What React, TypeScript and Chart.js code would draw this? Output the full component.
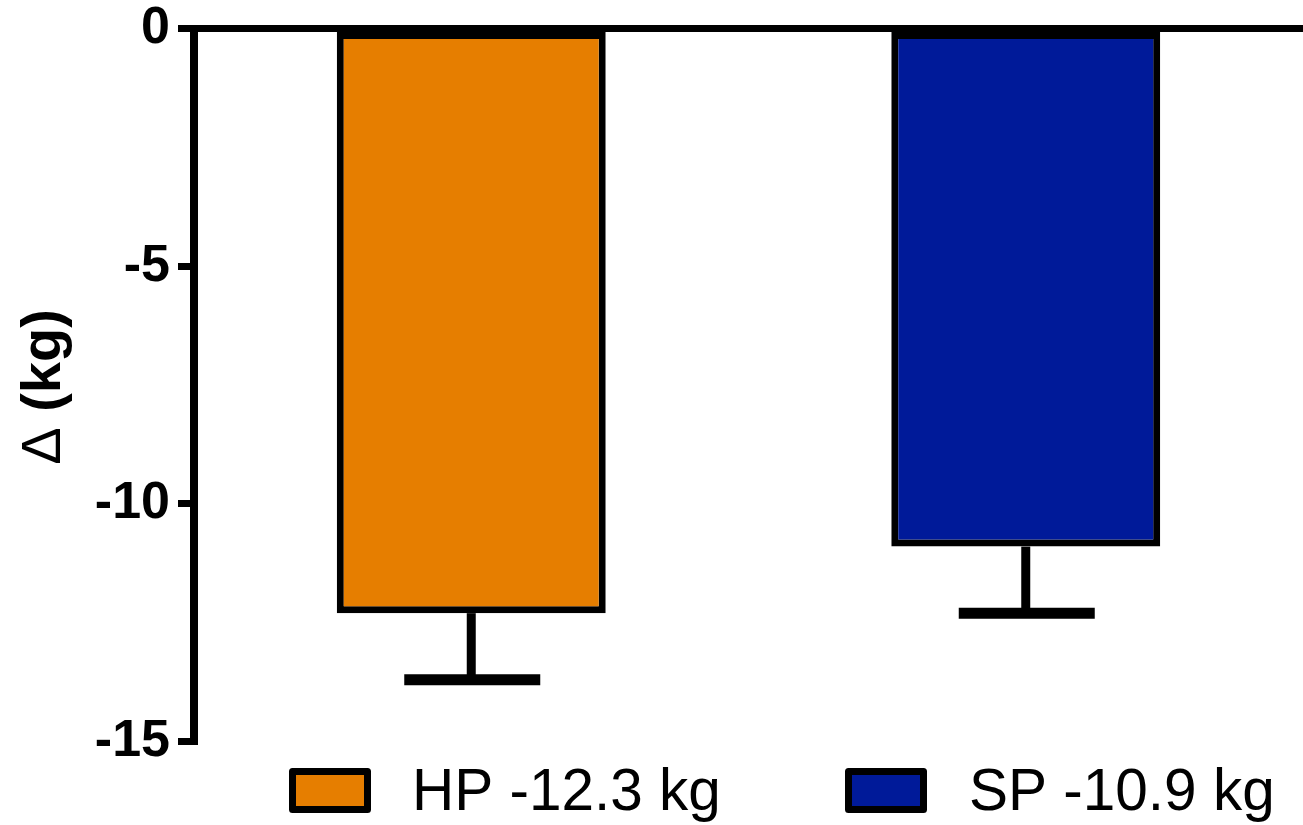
import React, { useEffect, useRef } from "react";
import { Chart, registerables } from "chart.js";

Chart.register(...registerables);

const categories = ["HP", "SP"];
const means = [-12.3, -10.9];
const errors = [1.4, 1.4];
const legendLabels = ["HP -12.3 kg", "SP -10.9 kg"];
const barColors = ["#E67E00", "#001A99"];
const yTicks = [0, -5, -10, -15];
const yTitleSymbol = "Δ";
const yTitleUnit = " (kg)";

const FONT = "'Liberation Sans', Arial, Helvetica, sans-serif";

const errorBarPlugin = {
  id: "errorBars",
  afterDatasetsDraw(chart: any) {
    const ctx = chart.ctx;
    const meta = chart.getDatasetMeta(0);
    const y = chart.scales.y;
    ctx.save();
    ctx.strokeStyle = "#000";
    meta.data.forEach((el: any, i: number) => {
      const x = el.x;
      const yBar = y.getPixelForValue(means[i]);
      const yEnd = y.getPixelForValue(means[i] - errors[i]);
      ctx.lineCap = "butt";
      ctx.lineWidth = 9;
      ctx.beginPath();
      ctx.moveTo(x, yBar);
      ctx.lineTo(x, yEnd);
      ctx.stroke();
      ctx.lineWidth = 11;
      ctx.beginPath();
      ctx.moveTo(x - 67, yEnd);
      ctx.lineTo(x + 69, yEnd);
      ctx.stroke();
    });
    ctx.restore();
  },
};

const customLegendPlugin = {
  id: "customLegend",
  afterDraw(chart: any) {
    const ctx = chart.ctx;
    const boxXs = [289, 845];
    const textXs = [412, 969];
    const boxY = 768;
    const boxW = 82;
    const boxH = 45;
    const bw = 7;
    ctx.save();
    legendLabels.forEach((label, i) => {
      ctx.fillStyle = barColors[i];
      ctx.fillRect(boxXs[i] + bw / 2, boxY + bw / 2, boxW - bw, boxH - bw);
      ctx.lineWidth = bw;
      ctx.lineJoin = "round";
      ctx.strokeStyle = "#000";
      ctx.strokeRect(boxXs[i] + bw / 2, boxY + bw / 2, boxW - bw, boxH - bw);
      ctx.fillStyle = "#000";
      ctx.font = `58.5px ${FONT}`;
      ctx.textAlign = "left";
      ctx.textBaseline = "alphabetic";
      ctx.fillText(label, textXs[i], 810);
    });
    ctx.restore();
  },
};

const yTitlePlugin = {
  id: "yTitle",
  afterDraw(chart: any) {
    const ctx = chart.ctx;
    ctx.save();
    ctx.translate(60, 387);
    ctx.rotate(-Math.PI / 2);
    ctx.fillStyle = "#000";
    ctx.textBaseline = "alphabetic";
    ctx.textAlign = "left";
    const fSym = `56px ${FONT}`;
    const fUnit = `bold 56px ${FONT}`;
    ctx.font = fSym;
    const w1 = ctx.measureText(yTitleSymbol).width;
    ctx.font = fUnit;
    const w2 = ctx.measureText(yTitleUnit).width;
    const start = -(w1 + w2) / 2;
    ctx.font = fSym;
    ctx.fillText(yTitleSymbol, start, 0);
    ctx.font = fUnit;
    ctx.fillText(yTitleUnit, start + w1, 0);
    ctx.restore();
  },
};

export default function App() {
  const canvasRef = useRef<HTMLCanvasElement | null>(null);

  useEffect(() => {
    document.body.style.margin = "0";
    const canvas = canvasRef.current;
    if (!canvas) return;
    const chart = new Chart(canvas, {
      type: "bar",
      data: {
        labels: categories,
        datasets: [
          {
            data: means,
            backgroundColor: barColors,
            borderColor: "#000",
            borderWidth: 7,
            borderSkipped: false,
            categoryPercentage: 1,
            barPercentage: 0.485,
          },
        ],
      },
      options: {
        animation: false,
        responsive: true,
        maintainAspectRatio: false,
        layout: { padding: { top: 28.5, bottom: 83.5, left: 0, right: 0 } },
        plugins: {
          legend: { display: false },
          tooltip: { enabled: false },
          title: { display: false },
        },
        scales: {
          x: { display: false },
          y: {
            min: -15,
            max: 0,
            afterFit(scale: any) {
              scale.width = 194;
              scale.paddingTop = 0;
              scale.paddingBottom = 0;
            },
            afterBuildTicks(scale: any) {
              scale.ticks = yTicks.map((v) => ({ value: v }));
            },
            border: { display: true, color: "#000", width: 8 },
            grid: {
              drawOnChartArea: true,
              drawTicks: true,
              tickLength: 16,
              lineWidth: 7,
              tickWidth: 7,
              tickColor: "#000",
              color: (c: any) =>
                c.tick && c.tick.value === 0 ? "#000" : "rgba(0,0,0,0)",
            },
            ticks: {
              padding: 8,
              color: "#000",
              font: { family: FONT, size: 52, weight: "bold", lineHeight: 1 },
            },
          },
        },
      },
      plugins: [errorBarPlugin, customLegendPlugin, yTitlePlugin],
    });
    return () => chart.destroy();
  }, []);

  return (
    <div style={{ width: 1303, height: 825, position: "relative" }}>
      <canvas ref={canvasRef} />
    </div>
  );
}
